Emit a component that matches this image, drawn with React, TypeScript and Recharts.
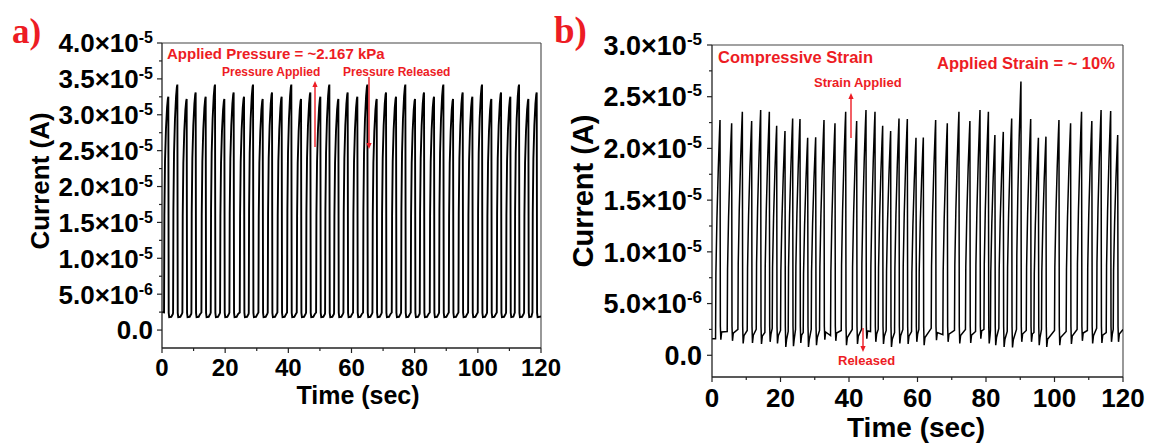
import React from 'react';
import { LineChart, Line, XAxis, YAxis, ReferenceLine } from 'recharts';

const RED = '#ed1c24';
const SANS = '"Liberation Sans", Arial, sans-serif';
const SERIF = '"Liberation Serif", "Times New Roman", serif';

// ---------- shared axis ticks ----------
const timeTicks = [0, 10, 20, 30, 40, 50, 60, 70, 80, 90, 100, 110, 120];
const yTicksA = [0, 2.5e-6, 5e-6, 7.5e-6, 1e-5, 1.25e-5, 1.5e-5, 1.75e-5, 2e-5, 2.25e-5, 2.5e-5, 2.75e-5, 3e-5, 3.25e-5, 3.5e-5, 3.75e-5, 4e-5];
const yTicksB = [0, 2.5e-6, 5e-6, 7.5e-6, 1e-5, 1.25e-5, 1.5e-5, 1.75e-5, 2e-5, 2.25e-5, 2.5e-5, 2.75e-5, 3e-5];

// ---------- panel a data (current in µA, time in s) ----------
const peakTimesA = [2.0, 4.86, 7.81, 10.66, 13.83, 16.78, 19.74, 22.69, 25.97, 28.82, 31.88, 34.83, 37.89, 40.95, 44.02, 46.97, 50.14, 52.99, 55.84, 58.79, 61.85, 65.02, 67.98, 70.93, 74.1, 77.05, 80.11, 82.96, 86.13, 89.09, 92.15, 95.21, 98.27, 101.33, 104.28, 107.35, 110.3, 113.05, 116.0, 118.64];
const peakValsA = [32.5, 34.2, 32.2, 33.1, 32.5, 34.2, 32.2, 33.1, 32.5, 34.2, 32.2, 33.1, 32.5, 34.2, 32.2, 33.1, 32.5, 34.2, 32.2, 33.1, 32.5, 34.2, 32.2, 33.1, 32.5, 34.2, 32.2, 33.1, 32.5, 34.2, 32.2, 33.1, 32.5, 34.2, 32.2, 33.1, 32.5, 34.2, 32.2, 33.1];
const preLevelA = 2.45;
const troughLevelA = 1.8;
const startA = 2.5;
const endA = 1.9;
// pulse shape: [time offset from peak, fraction of rise]
const riseShapeA: [number, number][] = [[-1.35, 0], [-1.25, 0.45], [-1.05, 0.7], [-0.75, 0.85], [-0.4, 0.95], [-0.15, 0.99], [0, 1]];
// after the peak: [time offset, kind, level]
const fallShapeA: [number, string, number][] = [[0.12, 'abs', 2.4], [0.28, 'trough', 0], [0.95, 'trough', 0.05], [1.45, 'trough', 0.45]];

// ---------- panel b data ----------
const peakTimesB = [2.34, 5.74, 8.86, 11.58, 14.21, 16.74, 18.88, 21.31, 23.55, 25.69, 27.93, 30.27, 32.7, 35.91, 39.03, 42.24, 44.96, 47.59, 49.83, 52.16, 54.6, 57.03, 59.56, 61.7, 65.3, 68.7, 72.1, 75.3, 78.25, 80.7, 82.6, 85.05, 87.5, 90.2, 93.05, 95.3, 97.5, 101.3, 104.7, 107.9, 110.9, 113.6, 116.4, 118.45];
const peakValsB = [22.75, 22.43, 23.55, 22.65, 23.72, 23.55, 22.2, 21.68, 22.9, 22.85, 21.04, 21.07, 22.75, 22.43, 23.55, 22.65, 23.72, 23.55, 22.2, 21.68, 22.9, 22.85, 21.04, 21.06, 22.75, 22.43, 23.55, 22.65, 23.72, 23.55, 21.3, 21.6, 22.9, 26.46, 22.85, 21.04, 21.14, 22.75, 22.43, 23.55, 22.65, 23.72, 23.62, 21.3];
const troughsB = [1.5, 1.4, 1.15, 1.2, 1.1, 1.3, 1.15, 0.8, 0.87, 1.2, 0.8, 0.97, 1.5, 1.4, 0.97, 1.1, 1.6, 1.3, 1.1, 0.8, 1.15, 1.1, 1.3, 0.97, 1.45, 1.3, 1.15, 1.2, 1.6, 1.15, 0.97, 0.8, 0.75, 1.3, 1.3, 0.97, 0.8, 0.97, 1.1, 1.4, 1.15, 1.2, 1.3, 1.3];
const presB = [1.6, 2.3, 2.5, 2.4, 2.5, 2.2, 2.6, 2.4, 2.3, 2.5, 2.2, 2.5, 2.4, 1.9, 2.4, 2.5, 2.5, 2.3, 2.5, 2.4, 2.2, 2.5, 2.3, 2.5, 2.6, 2.0, 2.4, 2.5, 2.3, 2.5, 2.4, 2.6, 2.3, 2.5, 2.4, 2.2, 2.5, 2.4, 2.3, 2.5, 2.4, 2.6, 2.2, 2.5];
const startB = 1.6;
const endB = 2.5;
const riseShapeB: [number, number][] = [[-1.3, 0], [-1.2, 0.3], [-0.9, 0.55], [-0.5, 0.78], [-0.15, 0.94], [0, 1]];
const fallShapeB: [number, string, number][] = [[0.1, 'abs', 2.8], [0.24, 'trough', 0], [0.48, 'trough', 0.75]];

type Pt = { t: number; v: number };

function buildSeries(
  times: number[], peaks: number[], pre: (i: number) => number, trough: (i: number) => number,
  rise: [number, number][], fall: [number, string, number][], startV: number, endV: number
): Pt[] {
  const end = 120;
  const pts: Pt[] = [{ t: 0, v: startV * 1e-6 }];
  let last = 0;
  const push = (t: number, v: number) => {
    if (t > last && t <= end) {
      pts.push({ t: +t.toFixed(3), v: v * 1e-6 });
      last = t;
    }
  };
  times.forEach((tp, i) => {
    const nextStart = i + 1 < times.length ? times[i + 1] + rise[0][0] : end;
    const p0 = pre(i);
    const pk = peaks[i];
    rise.forEach(([dt, f]) => push(tp + dt, p0 + f * (pk - p0)));
    fall.forEach(([dt, kind, lvl]) => {
      const t = tp + dt;
      if (t < nextStart) push(t, kind === 'trough' ? trough(i) + lvl : lvl);
    });
  });
  push(end, endV);
  return pts;
}

const seriesA = buildSeries(peakTimesA, peakValsA, () => preLevelA, () => troughLevelA, riseShapeA, fallShapeA, startA, endA);
const seriesB = buildSeries(peakTimesB, peakValsB, (i) => presB[i], (i) => troughsB[i], riseShapeB, fallShapeB, startB, endB);

// ---------- tick renderers ----------
const isMajorY = (v: number) => Math.abs(v / 5e-6 - Math.round(v / 5e-6)) < 1e-6;

function sci(v: number): { mant: string; exp: string | null } {
  if (Math.abs(v) < 1e-12) return { mant: '0.0', exp: null };
  const e = Math.floor(Math.log10(v) + 1e-9);
  return { mant: (v / Math.pow(10, e)).toFixed(1), exp: String(e) };
}

const makeYTick = (fs: number, supFs: number, supDy: number, gap: number) => (props: any) => {
  const { x, y, payload } = props;
  const v = payload.value as number;
  const major = isMajorY(v);
  const lab = sci(v);
  return (
    <g>
      <line x1={x - (major ? 5 : 3)} x2={x} y1={y} y2={y} stroke="#222" strokeWidth={1.2} />
      {major && (
        <text x={x - gap} y={y + fs * 0.36} textAnchor="end" fontSize={fs} fontWeight="bold" fontFamily={SANS} fill="#000">
          {lab.exp === null ? lab.mant : (
            <>
              <tspan>{lab.mant + '\u00d710'}</tspan>
              <tspan dy={-supDy} fontSize={supFs}>{lab.exp}</tspan>
            </>
          )}
        </text>
      )}
    </g>
  );
};

const makeXTick = (fs: number, base: number) => (props: any) => {
  const { x, y, payload } = props;
  const v = payload.value as number;
  const major = v % 20 === 0;
  return (
    <g>
      <line x1={x} x2={x} y1={y} y2={y + (major ? 5 : 3)} stroke="#222" strokeWidth={1.2} />
      {major && (
        <text x={x} y={y + base} textAnchor="middle" fontSize={fs} fontWeight="bold" fontFamily={SANS} fill="#000">{v}</text>
      )}
    </g>
  );
};

const Arrow = ({ x, y1, y2 }: { x: number; y1: number; y2: number }) => {
  const dir = y2 < y1 ? -1 : 1;
  return (
    <g>
      <line x1={x} x2={x} y1={y1} y2={y2 - dir * 5} stroke={RED} strokeWidth={1.4} />
      <polygon points={`${x},${y2} ${x - 2.6},${y2 - dir * 6} ${x + 2.6},${y2 - dir * 6}`} fill={RED} />
    </g>
  );
};

export default function App() {
  return (
    <div style={{ position: 'relative', width: 1150, height: 444, background: '#fff', overflow: 'hidden' }}>
      <style>{'body{margin:0}'}</style>
      <div style={{ position: 'absolute', left: 0, top: 0 }}>
        <LineChart width={580} height={444} data={seriesA} margin={{ top: 43, right: 39, bottom: 66, left: 82 }}>
          <XAxis type="number" dataKey="t" domain={[0, 120]} ticks={timeTicks} interval={0} allowDataOverflow
            tickSize={0} tickMargin={0} tickLine={false} height={30}
            axisLine={{ stroke: '#222', strokeWidth: 1.3 }} tick={makeXTick(24, 28)} />
          <YAxis type="number" domain={[-2.5e-6, 4e-5]} ticks={yTicksA} interval={0} allowDataOverflow
            tickSize={0} tickMargin={0} tickLine={false} width={80}
            axisLine={{ stroke: '#222', strokeWidth: 1.3 }} tick={makeYTick(26, 16, 9, 9)} />
          <ReferenceLine y={4e-5} stroke="#444" strokeWidth={1.1} />
          <ReferenceLine x={120} stroke="#444" strokeWidth={1.1} />
          <Line type="linear" dataKey="v" stroke="#000" strokeWidth={1.9} dot={false} isAnimationActive={false} />
        </LineChart>
      </div>
      <div style={{ position: 'absolute', left: 560, top: 0 }}>
        <LineChart width={590} height={444} data={seriesB} margin={{ top: 45, right: 27, bottom: 37, left: 72 }}>
          <XAxis type="number" dataKey="t" domain={[0, 120]} ticks={timeTicks} interval={0} allowDataOverflow
            tickSize={0} tickMargin={0} tickLine={false} height={30}
            axisLine={{ stroke: '#222', strokeWidth: 1.3 }} tick={makeXTick(26, 30)} />
          <YAxis type="number" domain={[-2.1e-6, 3e-5]} ticks={yTicksB} interval={0} allowDataOverflow
            tickSize={0} tickMargin={0} tickLine={false} width={80}
            axisLine={{ stroke: '#222', strokeWidth: 1.3 }} tick={makeYTick(27, 17, 10, 10)} />
          <ReferenceLine y={3e-5} stroke="#444" strokeWidth={1.1} />
          <ReferenceLine x={120} stroke="#444" strokeWidth={1.1} />
          <Line type="linear" dataKey="v" stroke="#000" strokeWidth={1.5} dot={false} isAnimationActive={false} />
        </LineChart>
      </div>
      <svg width={1150} height={444} style={{ position: 'absolute', left: 0, top: 0, pointerEvents: 'none' }}>
        {/* panel labels */}
        <text x={12} y={43} fontFamily={SERIF} fontWeight="bold" fontSize={35} fill={RED}>a)</text>
        <text x={554} y={43} fontFamily={SERIF} fontWeight="bold" fontSize={37} fill={RED}>b)</text>
        {/* axis titles */}
        <text transform="translate(40,181) rotate(-90)" y={26 * 0.36} textAnchor="middle" fontFamily={SANS} fontWeight="bold" fontSize={26} fill="#000">Current (A)</text>
        <text x={358} y={404} textAnchor="middle" fontFamily={SANS} fontWeight="bold" fontSize={25} fill="#000">Time (sec)</text>
        <text transform="translate(583,191) rotate(-90)" y={29 * 0.36} textAnchor="middle" fontFamily={SANS} fontWeight="bold" fontSize={29} fill="#000">Current (A)</text>
        <text x={916} y={437} textAnchor="middle" fontFamily={SANS} fontWeight="bold" fontSize={28} fill="#000">Time (sec)</text>
        {/* panel a annotations */}
        <text x={167} y={58.5} fontFamily={SANS} fontWeight="bold" fontSize={15} fill={RED}>Applied Pressure = ~2.167 kPa</text>
        <text x={222} y={76} fontFamily={SANS} fontWeight="bold" fontSize={12} fill={RED}>Pressure Applied</text>
        <text x={343} y={76} fontFamily={SANS} fontWeight="bold" fontSize={12} fill={RED}>Pressure Released</text>
        <Arrow x={315} y1={147} y2={81} />
        <Arrow x={369} y1={77} y2={149} />
        {/* panel b annotations */}
        <text x={718} y={63} fontFamily={SANS} fontWeight="bold" fontSize={16.5} fill={RED}>Compressive Strain</text>
        <text x={937} y={69} fontFamily={SANS} fontWeight="bold" fontSize={16.5} fill={RED}>Applied Strain = ~ 10%</text>
        <text x={814} y={86.5} fontFamily={SANS} fontWeight="bold" fontSize={13} fill={RED}>Strain Applied</text>
        <Arrow x={851} y1={138} y2={93} />
        <text x={838} y={365} fontFamily={SANS} fontWeight="bold" fontSize={13} fill={RED}>Released</text>
        <Arrow x={863} y1={328} y2={352} />
      </svg>
    </div>
  );
}
